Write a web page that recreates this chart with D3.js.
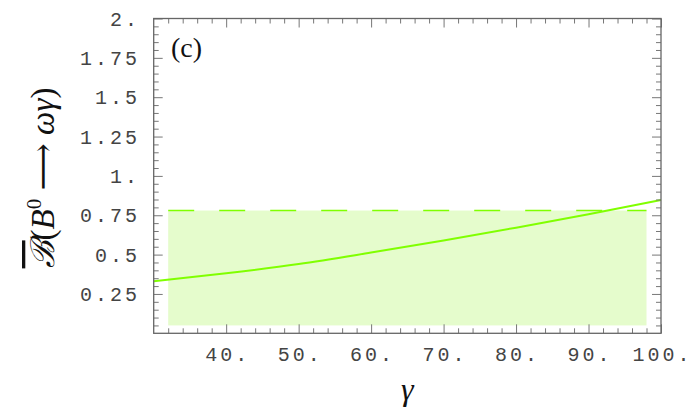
<!DOCTYPE html>
<html>
<head>
<meta charset="utf-8">
<script src="https://cdn.jsdelivr.net/npm/d3@7"></script>
<style>
  html, body { margin: 0; padding: 0; background: #fff; }
  svg { display: block; }
  .ticklab { font-family: "Liberation Mono", "DejaVu Sans Mono", monospace; font-size: 20px; fill: #444; letter-spacing: 3px; }
  .math { font-family: "Liberation Serif", "DejaVu Serif", serif; font-style: italic; fill: #111; }
</style>
</head>
<body>
<svg id="chart" width="699" height="408"></svg>
<script>
// Branching ratio of B0 -> omega gamma versus the angle gamma (degrees)
const gammaValues = [30, 40, 50, 60, 70, 80, 90, 100];
const branching   = [0.330, 0.381, 0.440, 0.513, 0.590, 0.671, 0.757, 0.847];

// Allowed band: gamma range and branching-ratio bounds
const bandGamma = [32, 98];
const bandBranching = [0.05, 0.78];

// Tick values and their labels
const xTicks = [40, 50, 60, 70, 80, 90, 100];
const xTickLabels = ["40.", "50.", "60.", "70.", "80.", "90.", "100."];
const yTicks = [0.25, 0.5, 0.75, 1, 1.25, 1.5, 1.75, 2];
const yTickLabels = ["0.25", "0.5", "0.75", "1.", "1.25", "1.5", "1.75", "2."];

const svg = d3.select("#chart");
const plotL = 153.7, plotR = 661, plotT = 18.5, plotB = 333.3;

const x = d3.scaleLinear().domain([30, 100]).range([plotL, plotR]);
const y = d3.scaleLinear().domain([0, 2]).range([plotB, plotT]);

const lineGreen = "#80ff00";
const bandFill = "#e5fccc";

// Shaded band
svg.append("rect")
  .attr("x", x(bandGamma[0]))
  .attr("y", y(bandBranching[1]))
  .attr("width", x(bandGamma[1]) - x(bandGamma[0]))
  .attr("height", y(bandBranching[0]) - y(bandBranching[1]))
  .attr("fill", bandFill);

// Dashed upper bound
svg.append("line")
  .attr("x1", x(bandGamma[0])).attr("x2", x(bandGamma[1]))
  .attr("y1", y(bandBranching[1])).attr("y2", y(bandBranching[1]))
  .attr("stroke", lineGreen).attr("stroke-width", 1.6)
  .attr("stroke-dasharray", "26,25");

// Prediction curve
const line = d3.line()
  .x((d, i) => x(gammaValues[i]))
  .y(d => y(d))
  .curve(d3.curveMonotoneX);
svg.append("path")
  .datum(branching)
  .attr("d", line)
  .attr("fill", "none")
  .attr("stroke", lineGreen)
  .attr("stroke-width", 2);

// Frame ticks (inward) on all four sides
const xMinor = d3.range(30, 100.001, 2).filter(v => v % 10 !== 0);
const yMinor = d3.range(0, 2.0001, 0.05).filter(v => Math.abs(v / 0.25 - Math.round(v / 0.25)) > 1e-6);

function styleAxis(g) {
  g.select(".domain").remove();
  g.selectAll(".tick line").attr("stroke", "#777").attr("stroke-width", 1);
  g.selectAll(".tick text").remove();
}

const axes = [
  [d3.axisBottom(x).tickValues(xTicks).tickSize(-9), `translate(0,${plotB})`],
  [d3.axisBottom(x).tickValues(xMinor).tickSize(-5), `translate(0,${plotB})`],
  [d3.axisTop(x).tickValues(xTicks).tickSize(-9), `translate(0,${plotT})`],
  [d3.axisTop(x).tickValues(xMinor).tickSize(-5), `translate(0,${plotT})`],
  [d3.axisLeft(y).tickValues(yTicks).tickSize(-9), `translate(${plotL},0)`],
  [d3.axisLeft(y).tickValues(yMinor).tickSize(-5), `translate(${plotL},0)`],
  [d3.axisRight(y).tickValues(yTicks).tickSize(-9), `translate(${plotR},0)`],
  [d3.axisRight(y).tickValues(yMinor).tickSize(-5), `translate(${plotR},0)`]
];
axes.forEach(([ax, tr]) => svg.append("g").attr("transform", tr).call(ax).call(styleAxis));

// Frame
svg.append("rect")
  .attr("x", plotL).attr("y", plotT)
  .attr("width", plotR - plotL).attr("height", plotB - plotT)
  .attr("fill", "none").attr("stroke", "#666").attr("stroke-width", 1.3);

// Tick labels
svg.append("g").selectAll("text")
  .data(xTicks)
  .join("text")
  .attr("class", "ticklab")
  .attr("x", (d) => x(d) + 1.5)
  .attr("y", 361)
  .attr("text-anchor", "middle")
  .text((d, i) => xTickLabels[i]);

svg.append("g").selectAll("text")
  .data(yTicks)
  .join("text")
  .attr("class", "ticklab")
  .attr("x", 140)
  .attr("y", d => y(d) + 7)
  .attr("text-anchor", "end")
  .text((d, i) => yTickLabels[i]);

// Panel tag
svg.append("text")
  .attr("x", 171).attr("y", 57)
  .attr("font-family", "Liberation Serif, DejaVu Serif, serif")
  .attr("font-size", 28)
  .attr("fill", "#111")
  .text("(c)");

// Axis titles
svg.append("text")
  .attr("class", "math")
  .attr("x", x(65)).attr("y", 400)
  .attr("text-anchor", "middle")
  .attr("font-size", 32)
  .text("γ");

const yt = svg.append("text")
  .attr("class", "math")
  .attr("transform", "translate(54,178) rotate(-90)")
  .attr("text-anchor", "middle")
  .attr("font-size", 33);
yt.append("tspan").attr("text-decoration", "overline").text("ℬ");
yt.append("tspan").attr("font-style", "normal").text("(");
yt.append("tspan").text("B");
yt.append("tspan").attr("font-size", 21).attr("font-style", "normal").attr("dy", -13).text("0");
yt.append("tspan").attr("font-style", "normal").attr("dy", 13).text(" ⟶ ");
yt.append("tspan").text("ωγ");
yt.append("tspan").attr("font-style", "normal").text(")");
</script>
</body>
</html>
